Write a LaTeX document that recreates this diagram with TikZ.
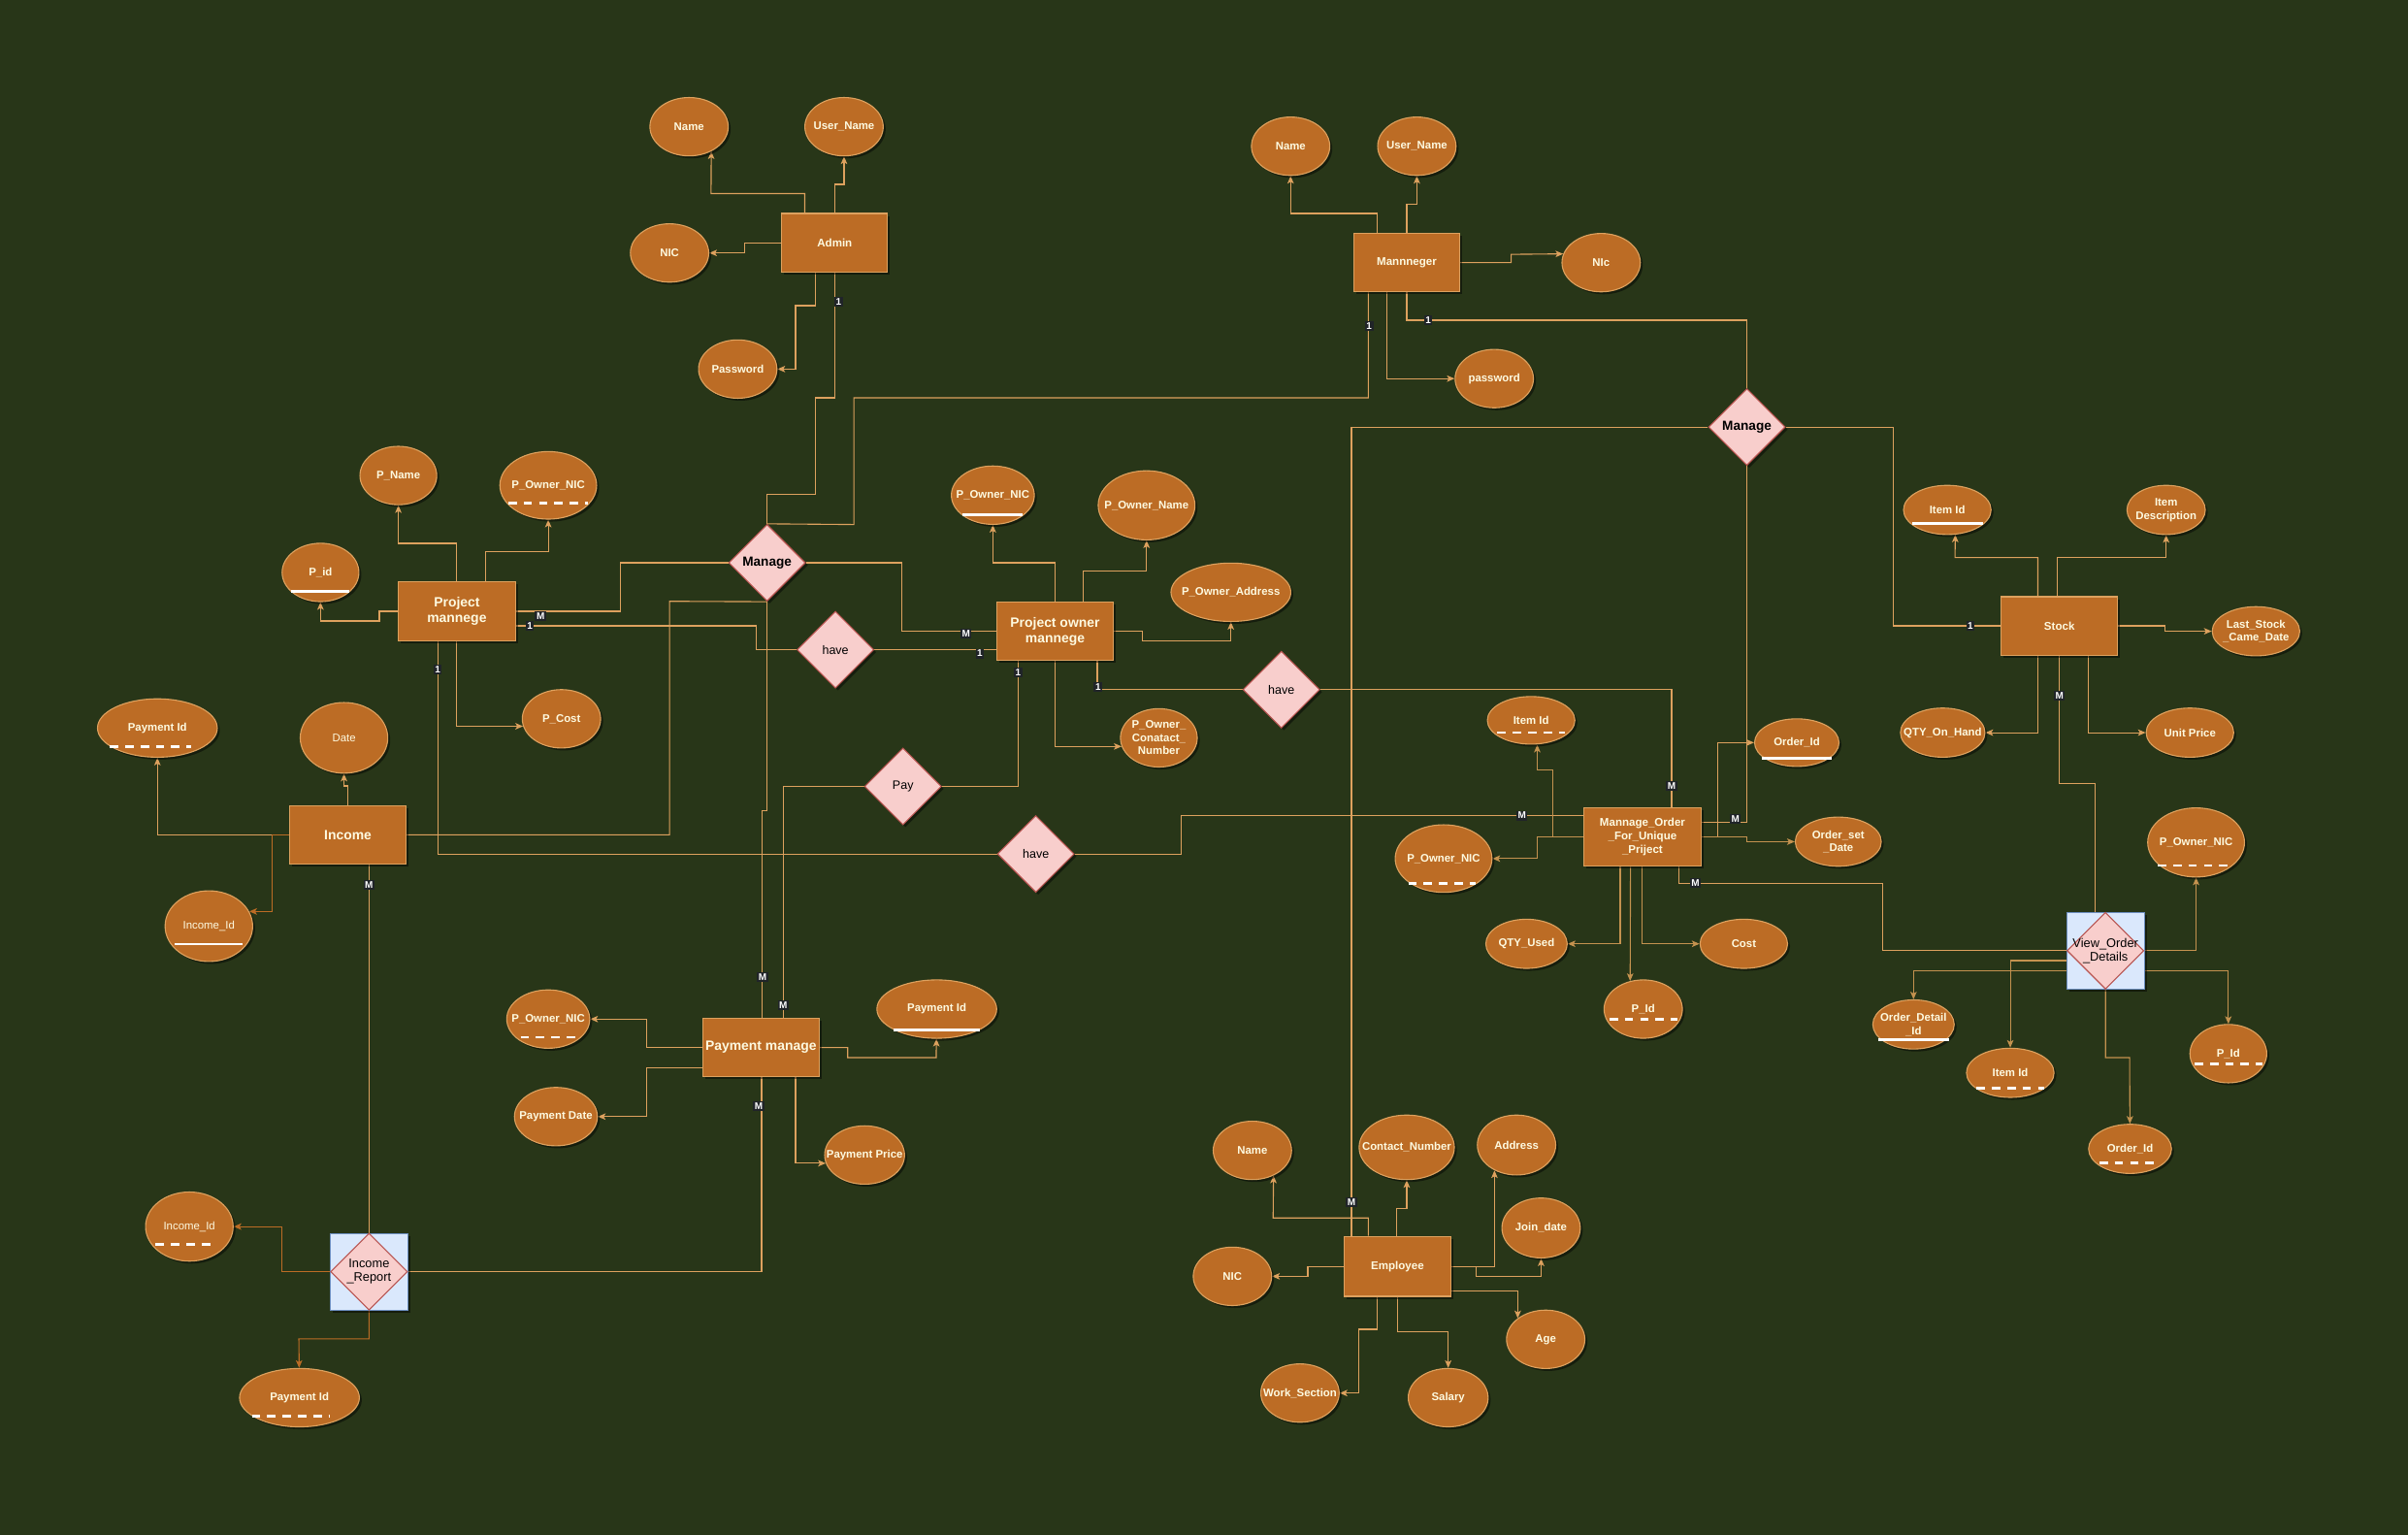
\documentclass[tikz,border=0pt]{standalone}
\usepackage{fontspec}
\setmainfont{Liberation Sans}
\usetikzlibrary{shapes.geometric,arrows.meta,shadows,calc}
\definecolor{bgc}{HTML}{283618}
\definecolor{attf}{HTML}{BC6C25}
\definecolor{edgec}{HTML}{DDA15E}
\definecolor{edgem}{HTML}{C4924F}
\definecolor{edgeb}{HTML}{BC6C25}
\definecolor{txtc}{HTML}{FEFAE0}
\definecolor{relf}{HTML}{F8CECC}
\definecolor{reld}{HTML}{B85450}
\definecolor{bluef}{HTML}{DAE8FC}
\definecolor{blued}{HTML}{6C8EBF}
\definecolor{cardbg}{HTML}{202428}
\pgfdeclarelayer{bglayer}
\pgfdeclarelayer{edges}
\pgfsetlayers{bglayer,edges,main}
\tikzset{
 shad/.style={drop shadow={shadow xshift=1.6pt,shadow yshift=-1.6pt,opacity=0.45,fill=black}},
 attshape/.style={ellipse,draw=edgec,fill=attf,line width=0.7pt,inner sep=0pt,shad},
 atttext/.style={text=txtc,font=\bfseries\fontsize{7.2}{8.6}\selectfont,align=center,inner sep=0pt},
 erent/.style={rectangle,draw=edgec,fill=attf,line width=0.7pt,inner sep=1pt,text=txtc,align=center,shad,font=\bfseries\fontsize{7.3}{8.9}\selectfont},
 erentbig/.style={erent,font=\bfseries\fontsize{8.8}{10.2}\selectfont},
 relshape/.style={diamond,aspect=1,draw=reld,fill=relf,line width=0.7pt,minimum width=50pt,minimum height=50pt,inner sep=0pt},
 relshad/.style={relshape,shad},
 relt/.style={text=black,align=center,inner sep=0pt,font=\fontsize{7.9}{8.8}\selectfont},
 reltb/.style={relt,font=\bfseries\fontsize{8.6}{9.5}\selectfont},
 wbox/.style={rectangle,draw=blued,fill=bluef,line width=0.7pt,minimum width=50.5pt,minimum height=50pt,inner sep=0pt,shad},
 erconn/.style={draw=edgec,line width=0.7pt},
 erarr/.style={erconn,-{Stealth[length=5pt,width=4.2pt,inset=1.2pt]}},
 erarr2/.style={erarr,draw=edgem},
 erarr3/.style={erarr,draw=edgeb},
 ercard/.style={fill=cardbg,text=white,font=\bfseries\fontsize{6.3}{7}\selectfont,inner sep=1pt},
 keysolid/.style={draw=white,line width=1.8pt},
 keydash/.style={draw=white,line width=1.8pt,dash pattern=on 5.5pt off 4.5pt},
}
\newcommand\ERatt[6]{\node[attshape,minimum width=#4pt,minimum height=#5pt] (#1) at (#2,#3) {};\node[atttext] (#1-t) at (#1.center) {#6};}
\newcommand\ERkey[5]{\draw[#1] ($(#2.center)+(#3,#5)$) -- ($(#2.center)+(#4,#5)$);}
\begin{document}
\begin{tikzpicture}[x=1pt,y=-1pt]
\begin{pgfonlayer}{bglayer}
\fill[bgc] (0,0) rectangle (1568,999.4);
\end{pgfonlayer}
\useasboundingbox (0,0) rectangle (1568,999.4);

% ---------- entities ----------
\node[erent,minimum width=69pt,minimum height=38pt] (adm) at (543.5,158) {Admin};
\node[erent,minimum width=69pt,minimum height=38pt] (mgr) at (916,171) {Mannneger};
\node[erentbig,minimum width=76pt,minimum height=38pt] (pm) at (297.5,398) {Project\\mannege};
\node[erentbig,minimum width=76pt,minimum height=38pt] (po) at (687,411) {Project owner\\mannege};
\node[erent,minimum width=76pt,minimum height=38pt] (stk) at (1341,407.5) {Stock};
\node[erentbig,minimum width=76pt,minimum height=38pt] (inc) at (226.5,543.5) {Income};
\node[erent,minimum width=76pt,minimum height=38pt] (mo) at (1069.5,545) {Mannage\_Order\\\_For\_Unique\\\_Priject};
\node[erentbig,minimum width=76pt,minimum height=38pt] (pay) at (495.5,682) {Payment manage};
\node[erent,minimum width=70pt,minimum height=39pt] (emp) at (910,824.5) {Employee};

% ---------- relationships ----------
\node[relshad] (rm1) at (499.5,366.4) {};
\node[reltb] (rm1-t) at (rm1.center) {Manage};
\node[relshad] (rm2) at (1137.5,278) {};
\node[reltb] (rm2-t) at (rm2.center) {Manage};
\node[relshad] (rh1) at (544,423) {};
\node[relt] (rh1-t) at (rh1.center) {have};
\node[relshad] (rh2) at (834.4,449) {};
\node[relt] (rh2-t) at (rh2.center) {have};
\node[relshad] (rpay) at (588,512) {};
\node[relt] (rpay-t) at (rpay.center) {Pay};
\node[relshad] (rh3) at (674.5,556) {};
\node[relt] (rh3-t) at (rh3.center) {have};
\node[wbox] (view) at (1371,619) {};
\node[relshape] (viewd) at (view.center) {};
\node[relt,font=\fontsize{8.1}{8.8}\selectfont] (view-t) at (view.center) {View\_Order\\\_Details};
\node[wbox] (increp) at (240.3,828) {};
\node[relshape] (increpd) at (increp.center) {};
\node[relt,font=\fontsize{8.1}{8.8}\selectfont] (increp-t) at (increp.center) {Income\\\_Report};

% ---------- attributes ----------
\ERatt{a_name}{448.7}{82.5}{51}{38}{Name}
\ERatt{a_user}{549.6}{82.5}{51}{38}{User\_Name}
\ERatt{a_nic}{436}{164.7}{51}{38}{NIC}
\ERatt{a_pw}{480.4}{240.3}{51}{38}{Password}
\ERatt{m_name}{840.4}{95.2}{51}{38}{Name}
\ERatt{m_user}{922.6}{95.2}{51}{38}{User\_Name}
\ERatt{m_nic}{1042.6}{171}{51}{38}{NIc}
\ERatt{m_pw}{973}{246.5}{51}{38}{password}
\ERatt{p_name}{259.4}{309.6}{50}{38}{P\_Name}
\ERatt{p_onic}{357}{316}{63}{44}{P\_Owner\_NIC}
\ERatt{p_id}{208.7}{372.7}{50}{38}{P\_id}
\ERatt{p_cost}{365.6}{468}{51}{38}{P\_Cost}
\ERatt{o_nic}{646.5}{322.4}{54}{38}{P\_Owner\_NIC}
\ERatt{o_name}{746.6}{329}{63}{45}{P\_Owner\_Name}
\ERatt{o_addr}{801.5}{385.6}{78}{38}{P\_Owner\_Address}
\ERatt{o_cont}{754.6}{480.4}{50}{38}{P\_Owner\_\\Conatact\_\\Number}
\ERatt{i_pid}{102.5}{474}{78}{38}{Payment Id}
\ERatt{i_date}{224}{480.4}{57}{46}{\mdseries Date}
\ERatt{i_iid}{136}{603}{57}{46}{\mdseries Income\_Id}
\ERatt{y_nic}{357}{663.5}{54}{38}{P\_Owner\_NIC}
\ERatt{y_pid}{610}{657}{78}{38}{Payment Id}
\ERatt{y_date}{362}{727}{54}{38}{Payment Date}
\ERatt{y_price}{563}{752}{52}{38}{Payment Price}
\ERatt{r_iid}{123.3}{798.6}{57}{45}{\mdseries Income\_Id}
\ERatt{r_pid}{195}{910}{78}{38}{Payment Id}
\ERatt{s_iid}{1268}{332}{57}{32}{Item Id}
\ERatt{s_desc}{1410.5}{332}{51}{32}{Item\\Description}
\ERatt{s_last}{1469}{411}{57}{32}{Last\_Stock\\\_Came\_Date}
\ERatt{s_qty}{1265}{477}{55}{32}{QTY\_On\_Hand}
\ERatt{s_price}{1426}{477}{57}{32}{Unit Price}
\ERatt{o2_iid}{997}{469}{57}{31}{Item Id}
\ERatt{o2_oid}{1170}{483.5}{55}{31}{Order\_Id}
\ERatt{o2_date}{1197}{548}{56}{32}{Order\_set\\\_Date}
\ERatt{o2_nic}{940}{559}{63}{44}{P\_Owner\_NIC}
\ERatt{o2_qty}{994}{614.5}{53}{32}{QTY\_Used}
\ERatt{o2_cost}{1135.5}{614.5}{57}{32}{Cost}
\ERatt{o2_pid}{1070}{657}{51}{38}{P\_Id}
\ERatt{v_nic}{1430}{548.5}{63}{45}{P\_Owner\_NIC}
\ERatt{v_odid}{1246}{667}{53}{32}{Order\_Detail\\\_Id}
\ERatt{v_iid}{1309}{698.5}{57}{32}{Item Id}
\ERatt{v_pid}{1451}{686}{50}{38}{P\_Id}
\ERatt{v_oid}{1387}{748}{54}{32}{Order\_Id}
\ERatt{e_name}{815.5}{749}{51}{38}{Name}
\ERatt{e_cont}{916}{747}{62}{42}{Contact\_Number}
\ERatt{e_addr}{987.5}{745.5}{51}{39}{Address}
\ERatt{e_join}{1003.5}{799.5}{51}{39}{Join\_date}
\ERatt{e_nic}{802.5}{831}{51}{38}{NIC}
\ERatt{e_age}{1006.5}{872}{51}{38}{Age}
\ERatt{e_work}{846.5}{907}{51}{38}{Work\_Section}
\ERatt{e_sal}{943}{910}{52}{38}{Salary}

% ---------- key underlines ----------
\ERkey{keydash}{p_onic}{-26}{26}{11.7}
\ERkey{keysolid}{p_id}{-19}{19}{12.6}
\ERkey{keysolid}{o_nic}{-19.6}{19.6}{12.8}
\ERkey{keydash}{i_pid}{-31}{22}{12.2}
\ERkey{keysolid}{i_iid}{-22}{22}{11.7}
\ERkey{keydash}{y_nic}{-18}{22}{11.8}
\ERkey{keysolid}{y_pid}{-28}{28}{13.5}
\ERkey{keydash}{r_iid}{-22}{18}{11.7}
\ERkey{keydash}{r_pid}{-31}{20}{12}
\ERkey{keysolid}{s_iid}{-23}{23}{8.7}
\ERkey{keydash}{o2_iid}{-22}{22}{8}
\ERkey{keysolid}{o2_oid}{-23}{23}{10}
\ERkey{keydash}{o2_nic}{-23}{21}{16}
\ERkey{keydash}{o2_pid}{-22}{22}{6.7}
\ERkey{keydash}{v_nic}{-25}{22}{15}
\ERkey{keysolid}{v_odid}{-23}{23}{10}
\ERkey{keydash}{v_iid}{-22}{22}{10}
\ERkey{keydash}{v_pid}{-22}{22}{6.5}
\ERkey{keydash}{v_oid}{-20}{20}{9}

% ---------- connectors ----------
\begin{pgfonlayer}{edges}
% Admin
\draw[erarr] (adm.north -| 524,0) |- (463,126) -- (a_name.312);
\draw[erarr] (adm.north) |- (549.6,120) -- (a_user);
\draw[erarr] (adm.west) -- (485,158) |- (a_nic);
\draw[erarr] (adm.south -| 531,0) |- (518,199) |- (a_pw);
\draw[erconn] (adm.south) |- (531,259) |- (499.5,322) -- (rm1);
% Mannneger
\draw[erarr] (mgr.north -| 897,0) |- (840.4,139) -- (m_name);
\draw[erarr] (mgr.north) |- (922.6,132.7) -- (m_user);
\draw[erarr] (mgr.east) -| (984,165.6) -- (m_nic.167.5);
\draw[erarr] (mgr.south -| 903,0) |- (m_pw);
\draw[erconn] (mgr.south) |- (1137.5,208.5) -- (rm2);
\draw[erconn] (mgr.south -| 891,0) |- (556,259) -- (556,341.5) -- (rm1.north);
% Project mannege
\draw[erarr] (pm.north) |- (259.4,353.8) -- (p_name);
\draw[erarr] (pm.north -| 316,0) |- (357,359) -- (p_onic);
\draw[erarr] (pm.west) -- (247,398) |- (208.7,404.3) -- (p_id);
\draw[erarr] (pm.south) |- (p_cost.191.5);
\draw[erconn] (pm.east) -- (404,398) |- (rm1);
\draw[erconn] (pm.east |- 0,407.5) -- (492.5,407.5) |- (rh1);
\draw[erconn] (pm.south -| 285,0) |- (rh3);
% Project owner mannege
\draw[erconn] (rh1) -- (po.west |- rh1);
\draw[erconn] (rm1.east) -| (587,411) -- (po.west);
\draw[erarr] (po.north) |- (646.5,366.4) -- (o_nic);
\draw[erarr] (po.north -| 705.4,0) |- (746.6,372) -- (o_name);
\draw[erarr] (po.east) -- (744,411) |- (801.5,417) -- (o_addr);
\draw[erarr] (po.south) |- (o_cont.193);
\draw[erconn] (po.south -| 663,0) |- (rpay);
\draw[erconn] (po.south -| 714.5,0) |- (rh2);
\draw[erconn] (rh2.east) -| (mo.north -| 1088.5,0);
\draw[erconn] (rh3.east) -- (769,556) |- (mo.west |- 0,531);
% Manage (right)
\draw[erconn] (rm2.west) -| (emp.north -| 880,0);
\draw[erconn] (rm2.east) -| (1233,407.5) -- (stk.west);
\draw[erconn] (rm2.south) |- (mo.east |- 0,535.5);
% Stock
\draw[erarr] (stk.north -| 1327,0) |- (1273,363) -- (s_iid.288);
\draw[erarr] (stk.north -| 1339.6,0) |- (1410.5,363) -- (s_desc);
\draw[erarr] (stk.east) -- (1410,407.5) |- (s_last);
\draw[erarr] (stk.south -| 1327,0) |- (s_qty);
\draw[erarr] (stk.south -| 1360,0) |- (s_price);
\draw[erconn] (stk.south) |- (1364,510.4) -- (view.north -| 1364,0);
% Mannage_Order
\draw[erarr2] (mo.west) -- (1011,545) |- (1001,501) -- (o2_iid.south -| 1001,0);
\draw[erarr2] (mo.west) -- (1001,545) |- (o2_nic);
\draw[erarr] (mo.east) -- (1118.5,545) |- (o2_oid);
\draw[erarr2] (mo.east) -- (1137.7,545) |- (o2_date);
\draw[erarr2] (mo.south -| 1055,0) |- (o2_qty);
\draw[erarr2] (mo.south -| 1061.7,0) -- (o2_pid.115);
\draw[erarr2] (mo.south -| 1069.3,0) |- (o2_cost);
\draw[erconn] (mo.south -| 1093,0) |- (1226,575) |- (view.west);
% View_Order_Details
\draw[erarr2] (view.east) -| (v_nic);
\draw[erarr2] (view.west |- 0,631.8) -| (v_odid);
\draw[erarr2] (view.west |- 0,625.4) -| (v_iid);
\draw[erarr2] (view.east |- 0,631.8) -| (v_pid);
\draw[erarr2] (view.south) |- (1386.7,688.6) -- (v_oid);
% Income
\draw[erarr] (inc.west) -| (i_pid);
\draw[erarr] (inc.north) |- (224,511.7) -- (i_date);
\draw[erarr3] (inc.west) -- (177,543.5) |- (i_iid.20);
\draw[erconn] (inc.south -| increp.north) -- (increp.north);
\draw[erconn] (inc.east) -| (436,391.5) -- (rm1.south);
% Payment manage
\draw[erconn] (rm1.south) -- (499.5,527.6) -- (496,527.6) -- (pay.north -| 496,0);
\draw[erconn] (rpay.west) -| (pay.north -| 510,0);
\draw[erarr] (pay.west) -- (421,682) |- (y_nic);
\draw[erarr] (pay.west |- 0,695) -- (421,695) |- (y_date);
\draw[erarr] (pay.east) -- (552,682) |- (609.6,688.6) -- (y_pid);
\draw[erarr] (pay.south -| 518,0) |- (y_price.192.7);
\draw[erconn] (pay.south -| 495.9,0) |- (increp.east);
% Income_Report
\draw[erarr3] (increp.west) -- (183.4,828) |- (r_iid);
\draw[erarr3] (increp.south) |- (194.6,871.7) -- (r_pid);
% Employee
\draw[erarr] (emp.north -| 891,0) |- (829,793) -- (e_name.310);
\draw[erarr] (emp.north -| 909.6,0) |- (916,787) -- (e_cont);
\draw[erarr] (emp.east) -| (e_addr.229);
\draw[erarr] (emp.east) -- (961.4,824.5) |- (1003.5,831) -- (e_join);
\draw[erarr] (emp.east |- 0,840.6) -| (e_age.143);
\draw[erarr] (emp.south) |- (943,867) -- (e_sal);
\draw[erarr] (emp.south -| 897,0) |- (884.8,865.5) |- (e_work);
\draw[erarr] (emp.west) -- (851.6,824.5) |- (e_nic);
\end{pgfonlayer}

% ---------- cardinality labels ----------
\node[ercard] (c1) at (546,196.5) {1};
\node[ercard] (c2) at (891.5,212.5) {1};
\node[ercard] (c3) at (930,208.5) {1};
\node[ercard] (c4) at (352,401) {M};
\node[ercard] (c5) at (345,407.5) {1};
\node[ercard] (c6) at (285,436) {1};
\node[ercard] (c7) at (629,412.5) {M};
\node[ercard] (c8) at (638,425.5) {1};
\node[ercard] (c9) at (663,438) {1};
\node[ercard] (c10) at (715,447.5) {1};
\node[ercard] (c11) at (1088.5,512) {M};
\node[ercard] (c12) at (991,531) {M};
\node[ercard] (c13) at (1130,533) {M};
\node[ercard] (c14) at (880,783) {M};
\node[ercard] (c15) at (1283,407.5) {1};
\node[ercard] (c16) at (1341,453) {M};
\node[ercard] (c17) at (1104,575) {M};
\node[ercard] (c18) at (240.3,576) {M};
\node[ercard] (c19) at (496.5,636) {M};
\node[ercard] (c20) at (510,654.5) {M};
\node[ercard] (c21) at (494,720) {M};
\end{tikzpicture}
\end{document}
